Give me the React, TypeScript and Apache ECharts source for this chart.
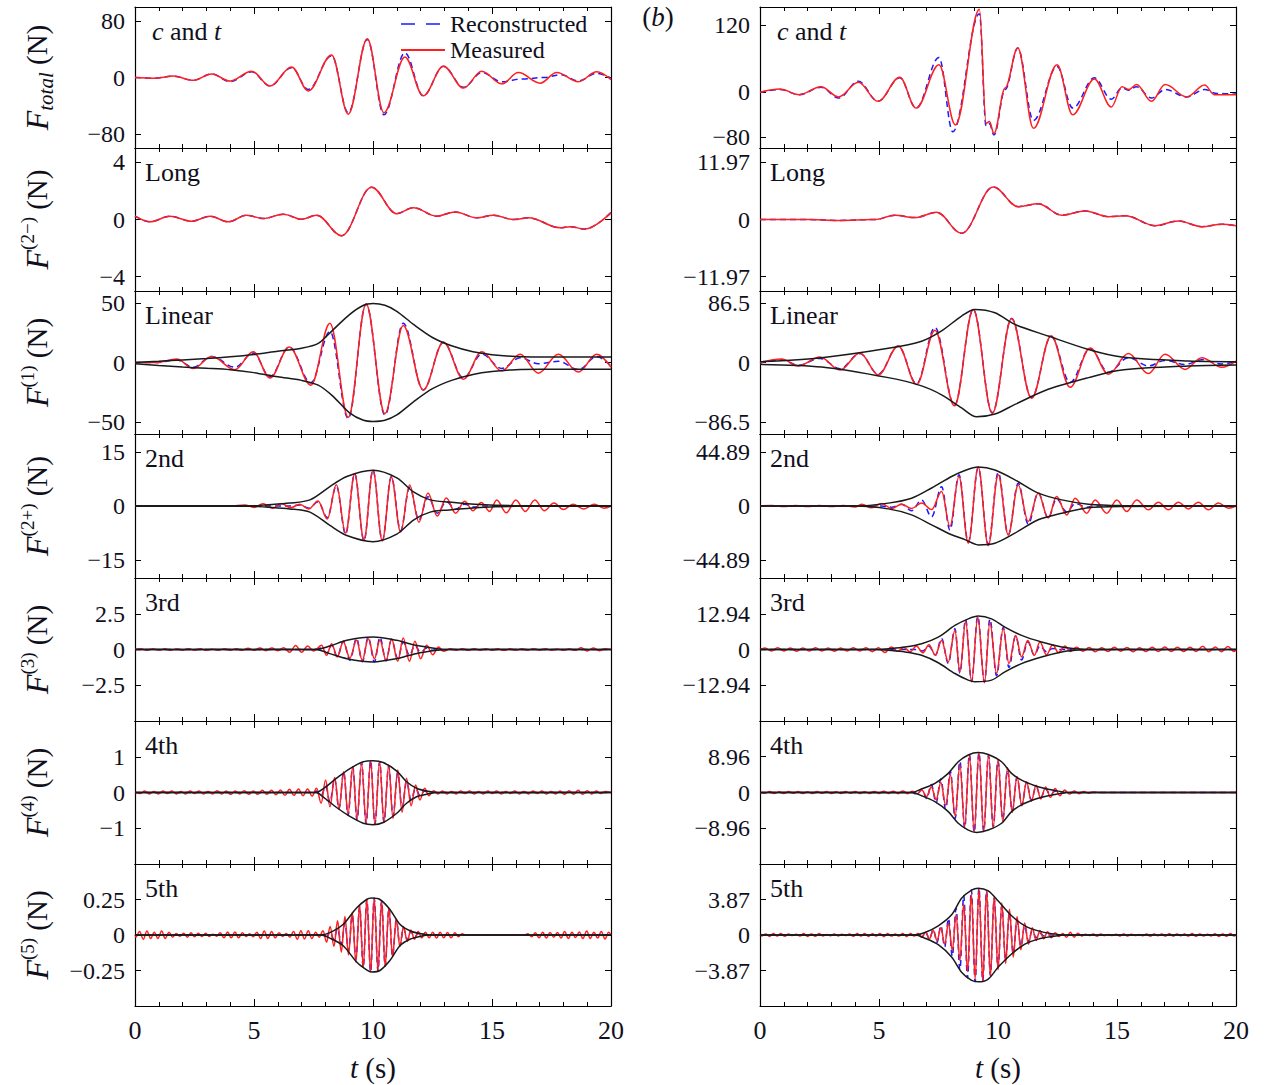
import React, { useEffect, useRef } from 'react';
import * as echarts from 'echarts';

type P = [number, number];

// ---------------- time axis ----------------
const timeTicks = [0, 5, 10, 15, 20];

// ---------------- (a) left column ----------------
const aTotMeas: P[] = [[0,0],[0.8,-1],[1.61,2],[2.45,-4],[3.22,5],[3.99,-5],[4.9,9],[5.67,-12],[6.58,15],[7.28,-19],[8.26,32],[8.96,-52],[9.76,55],[10.46,-50],[11.34,29],[12.11,-26],[12.96,16],[13.8,-15],[14.57,9],[15.41,-9],[16.11,7],[17.02,-8],[17.72,7],[18.63,-6],[19.4,8],[20,-3]];
const aTotRec: P[] = [[0,0],[0.8,-1],[1.61,2],[2.45,-4],[3.22,5],[3.99,-6],[4.9,8],[5.67,-12],[6.58,14],[7.28,-17],[8.26,31],[8.96,-50],[9.76,54],[10.46,-53],[11.34,35],[12.11,-26],[12.96,16],[13.8,-14],[14.57,7],[15.41,-6],[16.3,-2],[17.2,0],[17.9,4],[18.63,-5],[19.4,6],[20,-1]];

const aLongMeas: P[] = [[0,0.23],[0.63,-0.16],[1.47,0.23],[2.38,-0.12],[3.15,0.23],[3.92,-0.16],[4.69,0.3],[5.39,0.07],[6.23,0.37],[7.0,0.02],[7.63,0.3],[8.68,-1.13],[9.94,2.26],[10.99,0.41],[11.69,0.83],[12.68,0.23],[13.45,0.53],[14.36,0.12],[15.06,0.3],[15.9,0],[16.53,0.12],[17.86,-0.58],[18.28,-0.5],[18.91,-0.67],[20,0.48]];

const aLinMeas: P[] = [[0,0],[0.9,0],[1.75,3],[2.45,-5],[3.22,5],[4.2,-6],[4.97,9],[5.67,-13],[6.48,13],[7.39,-19],[8.19,33],[8.96,-46],[9.71,49],[10.5,-43],[11.27,31],[12.11,-23],[12.96,17],[13.8,-14],[14.57,9],[15.41,-7],[16.18,7],[16.95,-9],[17.79,7],[18.63,-8],[19.4,7],[20,-4]];
const aLinRec: P[] = [[0,0],[0.9,0],[1.75,2],[2.45,-4],[3.22,5],[4.2,-4],[4.97,8],[5.67,-12],[6.48,13],[7.39,-17],[8.19,26],[8.96,-47],[9.71,49],[10.5,-44],[11.27,33],[12.11,-23],[12.96,17],[13.8,-13],[14.57,7],[15.41,-5],[16.18,4],[16.95,-1],[17.79,1],[18.63,-6],[19.4,5],[20,-3]];
const aLinUp: P[] = [[0,0],[1,1],[2,2.2],[3,3.3],[4,4.8],[5,6.8],[6,9.5],[7,12],[7.7,16],[8.3,27],[9,40],[9.6,48],[10,49.5],[10.5,48],[11,43],[11.7,32],[12.5,21],[13.3,14],[14.2,9],[15,6.5],[16,5],[17,4.6],[20,4.6]];
const aLinLo: P[] = [[0,-1],[1,-2.5],[2,-3.8],[3,-4.8],[4,-6],[5,-8.5],[6,-12],[7,-15],[7.7,-19],[8.3,-28],[9,-42],[9.6,-48.5],[10,-49.5],[10.5,-48.5],[11,-44],[11.7,-33],[12.5,-22],[13.3,-15],[14.2,-10],[15,-7.5],[16,-6],[17,-5.7],[20,-5.7]];

const a2Meas: P[] = [[0,0],[1,0.05],[2,-0.05],[3,0.05],[4,-0.05],[4.61,0.3],[5.0,-0.4],[5.38,0.6],[5.77,-0.6],[6.15,0.7],[6.54,-0.5],[6.92,0.5],[7.31,-0.8],[7.69,1.4],[8.08,-3.6],[8.46,5.9],[8.85,-7.5],[9.23,8.9],[9.62,-9.5],[10.0,9.9],[10.39,-9.7],[10.77,8],[11.16,-7.2],[11.54,5.8],[11.93,-4.5],[12.31,3.6],[12.7,-2.8],[13.08,2.2],[13.47,-2.0],[13.85,1.3],[14.2,-1.3],[14.55,1.0],[14.9,-1.5],[15.2,1.7],[15.6,-1.9],[16.0,1.7],[16.4,-1.5],[16.8,1.7],[17.2,-1.3],[17.6,0.8],[18.0,-1.0],[18.4,0.5],[18.85,-0.8],[19.3,0.5],[19.7,-0.6],[20,0]];
const a2Rec: P[] = [[0,0],[6.5,0],[6.92,0.3],[7.31,-0.6],[7.69,1.2],[8.08,-3.2],[8.46,5.6],[8.85,-7.8],[9.23,9.0],[9.62,-9.6],[10.0,10.0],[10.39,-9.6],[10.77,8.2],[11.16,-6.8],[11.54,5.2],[11.93,-3.8],[12.31,2.6],[12.7,-2.0],[13.08,1.2],[13.47,-0.9],[13.85,0.5],[14.24,-0.3],[14.6,0],[20,0]];
const a2Up: P[] = [[0,0.05],[5,0.1],[5.5,0.3],[6.5,0.8],[7.35,1.7],[8.19,5.4],[8.9,8.2],[10,9.9],[11,7.8],[11.7,3.9],[12.4,1.7],[13.2,1.1],[14.5,0.4],[16,0.1],[20,0.05]];
const a2Lo: P[] = [[0,-0.05],[5,-0.1],[5.5,-0.3],[6.5,-0.8],[7.35,-1.7],[8.19,-5.4],[8.9,-8.2],[10,-9.9],[11,-7.8],[11.7,-3.9],[12.4,-1.7],[13.2,-1.1],[14.5,-0.4],[16,-0.1],[20,-0.05]];

const a3Meas: P[] = [[0,0],[0.25,0.05],[0.5,-0.05],[0.75,0.06],[1.0,-0.04],[1.25,0.05],[1.5,-0.06],[1.75,0.04],[2.0,-0.05],[2.25,0.06],[2.5,-0.05],[2.75,0.05],[3.0,-0.06],[3.25,0.04],[3.5,-0.05],[3.75,0.06],[4.0,-0.05],[4.25,0.05],[4.5,-0.06],[4.75,0.08],[5.0,-0.06],[5.25,0.1],[5.5,-0.08],[5.75,0.1],[6.0,-0.08],[6.25,0.12],[6.5,-0.2],[6.75,0.28],[7.0,-0.2],[7.25,0.24],[7.5,-0.1],[7.84,0.29],[8.05,-0.41],[8.26,0.41],[8.5,-0.52],[8.75,0.52],[9.03,-0.59],[9.31,0.64],[9.55,-0.76],[9.8,0.76],[10.06,-0.64],[10.29,0.64],[10.55,-0.76],[10.78,0.76],[11.04,-0.83],[11.27,0.8],[11.53,-0.83],[11.76,0.57],[12.0,-0.64],[12.25,0.29],[12.51,-0.36],[12.75,0.17],[12.96,-0.13],[13.25,0.06],[13.5,-0.05],[13.75,0.05],[14.0,-0.06],[14.25,0.05],[14.5,-0.05],[14.75,0.06],[15.0,-0.05],[15.25,0.05],[15.5,-0.06],[15.75,0.05],[16.0,-0.04],[16.25,0.05],[16.5,-0.05],[16.75,0.06],[17.0,-0.05],[17.25,0.05],[17.5,-0.05],[17.75,0.04],[18.0,-0.05],[18.25,0.05],[18.5,-0.06],[18.75,0.12],[19.0,-0.1],[19.25,0.1],[19.5,-0.08],[19.75,0.05],[20,0]];
const a3Rec: P[] = [[0,0],[7.5,0],[7.84,0.1],[8.05,-0.25],[8.26,0.3],[8.5,-0.5],[8.75,0.6],[9.03,-0.75],[9.31,0.78],[9.55,-0.85],[9.8,0.85],[10.06,-0.87],[10.29,0.85],[10.55,-0.8],[10.78,0.7],[11.04,-0.62],[11.27,0.5],[11.53,-0.4],[11.76,0.28],[12.0,-0.2],[12.25,0.1],[12.5,-0.05],[12.8,0],[20,0]];
const a3Up: P[] = [[0,0],[7.6,0],[8.19,0.24],[8.9,0.64],[10,0.87],[11.0,0.64],[11.8,0.29],[12.7,0.06],[13.2,0],[20,0]];
const a3Lo: P[] = [[0,0],[7.6,0],[8.19,-0.29],[8.9,-0.64],[10,-0.87],[11.0,-0.64],[11.8,-0.29],[12.7,-0.06],[13.2,0],[20,0]];

const a4Meas: P[] = [[0,0],[0.22,-0.03],[0.41,0.04],[0.6,-0.04],[0.79,0.03],[0.98,-0.04],[1.17,0.04],[1.36,-0.03],[1.55,0.04],[1.74,-0.04],[1.93,0.03],[2.12,-0.04],[2.31,0.04],[2.5,-0.03],[2.69,0.04],[2.88,-0.04],[3.07,0.03],[3.26,-0.04],[3.45,0.05],[3.64,-0.04],[3.83,0.04],[4.02,-0.05],[4.21,0.04],[4.4,-0.04],[4.59,0.05],[4.78,-0.05],[4.97,0.04],[5.16,-0.05],[5.35,0.06],[5.54,-0.05],[5.73,0.06],[5.92,-0.06],[6.11,0.07],[6.3,-0.08],[6.49,0.09],[6.68,-0.08],[6.87,0.1],[7.06,-0.09],[7.25,0.1],[7.44,-0.1],[7.63,0.12],[7.82,-0.3],[8.01,0.35],[8.19,-0.4],[8.39,0.42],[8.57,-0.45],[8.77,0.58],[8.95,-0.6],[9.15,0.72],[9.33,-0.74],[9.52,0.82],[9.71,-0.85],[9.9,0.88],[10.08,-0.89],[10.28,0.86],[10.46,-0.83],[10.66,0.77],[10.84,-0.72],[11.04,0.63],[11.22,-0.55],[11.41,0.4],[11.6,-0.37],[11.79,0.21],[11.97,-0.21],[12.17,0.12],[12.35,-0.09],[12.55,0.05],[12.73,-0.04],[12.92,0.04],[13.11,-0.04],[13.3,0.03],[13.49,-0.04],[13.68,0.04],[13.87,-0.03],[14.06,0.04],[14.25,-0.04],[14.44,0.03],[14.63,-0.04],[14.82,0.04],[15.01,-0.03],[15.2,0.04],[15.39,-0.04],[15.58,0.03],[15.77,-0.03],[15.96,0.04],[16.15,-0.04],[16.34,0.03],[16.53,-0.04],[16.72,0.04],[16.91,-0.03],[17.1,0.04],[17.29,-0.04],[17.48,0.03],[17.67,-0.04],[17.86,0.04],[18.05,-0.05],[18.24,0.05],[18.43,-0.05],[18.62,0.06],[18.81,-0.05],[19.0,0.05],[19.19,-0.04],[19.38,0.04],[19.57,-0.03],[19.76,0.03],[20,0]];
const a4Rec: P[] = [[0,0],[7.44,0],[7.63,0.04],[7.82,-0.1],[8.01,0.18],[8.19,-0.26],[8.39,0.38],[8.57,-0.46],[8.77,0.58],[8.95,-0.64],[9.15,0.72],[9.33,-0.78],[9.52,0.84],[9.71,-0.87],[9.9,0.89],[10.08,-0.89],[10.28,0.86],[10.46,-0.83],[10.66,0.74],[10.84,-0.66],[11.04,0.55],[11.22,-0.42],[11.41,0.3],[11.6,-0.2],[11.79,0.12],[11.97,-0.08],[12.17,0.04],[12.35,-0.02],[12.55,0],[20,0]];
const a4Up: P[] = [[0,0],[7.6,0],[7.9,0.1],[8.47,0.4],[9.03,0.67],[9.59,0.86],[10.0,0.89],[10.43,0.84],[11.0,0.6],[11.41,0.3],[11.83,0.12],[12.25,0.04],[12.68,0],[20,0]];
const a4Lo: P[] = [[0,0],[7.6,0],[7.9,-0.12],[8.47,-0.42],[9.03,-0.67],[9.59,-0.86],[10.0,-0.9],[10.43,-0.84],[11.0,-0.58],[11.41,-0.3],[11.83,-0.12],[12.25,-0.05],[12.68,0],[20,0]];

const a5Meas: P[] = [[0,0],[0.04,-0.015],[0.19,0.025],[0.35,-0.03],[0.5,0.028],[0.66,-0.025],[0.81,0.02],[0.96,-0.025],[1.12,0.028],[1.27,-0.025],[1.43,0.02],[1.58,-0.015],[1.73,0.01],[1.89,-0.008],[2.04,0.012],[2.2,-0.015],[2.35,0.015],[2.5,-0.012],[2.66,0.012],[2.81,-0.01],[2.97,0.012],[3.12,-0.01],[3.27,0.006],[3.43,-0.008],[3.58,0.015],[3.74,-0.02],[3.89,0.022],[4.04,-0.02],[4.2,0.022],[4.35,-0.02],[4.51,0.015],[4.66,-0.01],[4.81,0.008],[4.97,-0.012],[5.12,0.02],[5.28,-0.025],[5.43,0.028],[5.58,-0.025],[5.74,0.025],[5.89,-0.02],[6.05,0.015],[6.2,-0.01],[6.35,0.01],[6.51,-0.015],[6.66,0.025],[6.82,-0.03],[6.97,0.03],[7.12,-0.028],[7.28,0.03],[7.43,-0.025],[7.59,0.02],[7.74,-0.015],[7.9,0.03],[8.05,-0.05],[8.2,0.06],[8.36,-0.08],[8.51,0.1],[8.67,-0.12],[8.82,0.13],[8.97,-0.14],[9.13,0.16],[9.28,-0.19],[9.44,0.21],[9.59,-0.23],[9.74,0.25],[9.9,-0.26],[10.05,0.26],[10.21,-0.25],[10.36,0.24],[10.51,-0.22],[10.67,0.19],[10.82,-0.15],[10.98,0.11],[11.13,-0.08],[11.28,0.06],[11.44,-0.045],[11.59,0.035],[11.74,-0.03],[11.9,0.025],[12.05,-0.02],[12.2,0.02],[12.36,-0.02],[12.51,0.02],[12.67,-0.022],[12.82,0.02],[12.97,-0.02],[13.13,0.018],[13.28,-0.02],[13.44,0.015],[13.59,-0.012],[13.74,0.008],[13.9,0],[16.36,0],[16.51,0.008],[16.67,-0.012],[16.82,0.015],[16.98,-0.02],[17.13,0.02],[17.28,-0.022],[17.44,0.018],[17.59,-0.015],[17.75,0.018],[17.9,-0.022],[18.05,0.025],[18.21,-0.025],[18.36,0.02],[18.51,-0.018],[18.67,0.022],[18.82,-0.025],[18.98,0.028],[19.13,-0.025],[19.28,0.02],[19.44,-0.022],[19.59,0.025],[19.75,-0.028],[19.9,0.02],[20,0]];
const a5Rec: P[] = [[0,0],[7.74,0],[7.9,0.005],[8.05,-0.01],[8.2,0.017],[8.36,-0.03],[8.51,0.045],[8.67,-0.065],[8.82,0.085],[8.97,-0.11],[9.13,0.14],[9.28,-0.17],[9.44,0.2],[9.59,-0.23],[9.74,0.25],[9.9,-0.26],[10.05,0.26],[10.21,-0.255],[10.36,0.24],[10.51,-0.22],[10.67,0.19],[10.82,-0.15],[10.98,0.11],[11.13,-0.076],[11.28,0.05],[11.44,-0.035],[11.59,0.025],[11.74,-0.015],[11.9,0.01],[12.05,0],[20,0]];
const a5Up: P[] = [[0,0],[7.8,0],[8.19,0.017],[8.75,0.076],[9.31,0.19],[9.73,0.25],[9.94,0.26],[10.29,0.25],[10.71,0.18],[11.13,0.076],[11.55,0.03],[11.97,0.01],[12.4,0],[20,0]];
const a5Lo: P[] = [[0,0],[7.8,0],[8.19,-0.022],[8.75,-0.076],[9.31,-0.19],[9.73,-0.245],[9.94,-0.26],[10.29,-0.25],[10.71,-0.18],[11.13,-0.076],[11.55,-0.03],[11.97,-0.01],[12.4,0],[20,0]];

// ---------------- (b) right column ----------------
const bTotMeas: P[] = [[0,0],[0.83,6],[1.65,-4],[2.56,10],[3.31,-8],[4.13,18],[4.96,-16],[5.87,27],[6.56,-28],[7.52,49],[8.21,-58],[9.22,148],[9.5,-55],[9.64,-52],[9.83,-73],[10.3,8],[10.83,79],[11.49,-64],[12.48,49],[13.14,-40],[14.05,24],[14.76,-26],[15.21,10],[15.5,5],[15.82,14],[16.45,-16],[17.02,14],[17.93,-8],[18.68,13],[19.09,-4],[20,-4]];
const bTotRec: P[] = [[0,0],[0.83,5],[1.65,-4],[2.56,9],[3.31,-10],[4.13,20],[4.96,-16],[5.87,26],[6.56,-28],[7.52,62],[8.1,-70],[9.22,140],[9.5,-60],[9.64,-56],[9.83,-76],[10.3,5],[10.83,79],[11.49,-50],[12.48,46],[13.14,-28],[14.05,26],[14.76,-12],[15.21,8],[15.5,4],[15.82,10],[16.45,-10],[17.02,5],[17.93,-8],[18.68,5],[19.2,-2],[20,-3]];

const bLongMeas: P[] = [[0,0],[2.0,0],[3.29,-0.2],[4.83,0],[5.67,0.9],[6.51,0.4],[7.42,1.5],[8.47,-2.9],[9.8,6.8],[10.85,2.7],[11.69,3.3],[12.68,0.9],[13.66,1.8],[14.64,0.6],[15.34,0.8],[16.6,-1.3],[17.58,-0.3],[18.56,-1.5],[19.4,-1.0],[20,-1.3]];

const bLinMeas: P[] = [[0,-0.3],[0.91,5],[1.61,-5],[2.52,8],[3.36,-11],[4.2,14],[4.97,-18],[5.81,24],[6.58,-32],[7.35,47],[8.17,-63],[8.96,77],[9.76,-74],[10.57,64],[11.41,-52],[12.23,39],[13.03,-36],[13.87,21],[14.64,-17],[15.48,13],[16.32,-16],[17.02,12],[17.86,-10],[18.56,7],[19.4,-7],[20,2]];
const bLinRec: P[] = [[0,-0.3],[0.91,4],[1.61,-4],[2.52,6],[3.36,-9],[4.2,13],[4.97,-17],[5.81,24],[6.58,-31],[7.35,51],[8.17,-62],[8.96,77],[9.76,-73],[10.57,64],[11.41,-51],[12.23,38],[13.03,-29],[13.87,20],[14.64,-14],[15.48,7],[16.32,-5],[17.02,3],[17.86,-3],[18.56,4],[19.4,-2],[20,1]];
const bLinUp: P[] = [[0,1.2],[2.59,7],[5.39,20.6],[6.79,31],[7.63,46],[8.47,67.6],[9.03,77.2],[9.87,72.4],[10.71,55.5],[12.11,38.5],[13.8,19],[15.2,8],[18,2.2],[20,1.2]];
const bLinLo: P[] = [[0,-2.7],[2.59,-6.5],[5.39,-22],[6.79,-34],[7.63,-47],[8.47,-66],[9.1,-79],[9.87,-75],[10.71,-61],[12.11,-39],[13.8,-22],[15.2,-11],[18,-5],[20,-3.6]];

const b2Meas: P[] = [[0,0],[0.5,0.5],[1.0,-0.5],[1.5,0.5],[2.0,-0.5],[2.5,0.5],[3.0,-0.5],[3.5,0.5],[4.0,-0.8],[4.27,1.5],[4.69,-1.5],[5.11,2],[5.53,-2],[5.95,1.5],[6.37,-2],[6.79,2.5],[7.21,-3],[7.63,12],[7.98,-17],[8.36,24.6],[8.75,-31],[9.17,32.4],[9.59,-33],[10.01,26],[10.43,-24],[10.85,17.6],[11.27,-12.9],[11.69,10.7],[12.11,-10.1],[12.46,7.9],[12.89,-7.4],[13.24,6.5],[13.73,-6],[14.08,5.1],[14.57,-6],[14.99,5.1],[15.41,-4.6],[15.83,5.1],[16.32,-3.2],[16.74,3.2],[17.16,-3.2],[17.58,3.2],[18.0,-2.4],[18.42,3.2],[18.84,-3.2],[19.26,2.4],[19.68,-1.8],[20,0]];
const b2Rec: P[] = [[0,0],[5.1,0],[5.53,-1],[5.95,1.5],[6.37,-4],[6.79,5],[7.21,-9],[7.63,16],[7.98,-20],[8.36,26],[8.75,-30],[9.17,32],[9.59,-32],[10.01,28],[10.43,-24],[10.85,19],[11.27,-15],[11.69,11],[12.11,-10],[12.46,6],[12.89,-5],[13.24,2],[13.73,-1],[14.1,0],[20,0]];
const b2Up: P[] = [[0,0],[4.0,0],[5.39,2.4],[6.37,6.5],[7.21,15],[8.05,24.6],[8.61,29.6],[9.17,32.4],[9.87,30],[10.71,21.8],[11.69,10.7],[12.68,5.1],[13.8,1.5],[15.2,0.4],[20,0]];
const b2Lo: P[] = [[0,0],[4.0,0],[5.39,-2.4],[6.37,-7.4],[7.21,-15.7],[8.05,-24],[8.61,-28],[9.17,-32.4],[9.87,-31],[10.71,-22.6],[11.69,-11.5],[12.68,-6],[13.8,-1.5],[15.2,-0.4],[20,0]];

const b3Meas: P[] = [[0,0],[0.21,0.5],[0.48,-0.5],[0.74,0.6],[1.01,-0.5],[1.27,0.5],[1.54,-0.6],[1.8,0.5],[2.07,-0.5],[2.33,0.6],[2.6,-0.5],[2.86,0.5],[3.13,-0.6],[3.39,0.5],[3.66,-0.5],[3.92,0.6],[4.19,-0.5],[4.45,0.6],[4.72,-0.8],[4.98,0.6],[5.25,-1.1],[5.51,0.9],[5.78,-0.6],[6.04,0.7],[6.31,-0.8],[6.57,1.3],[6.84,-1.2],[7.1,1.7],[7.37,-2.0],[7.63,3.3],[7.91,-4.5],[8.19,6.9],[8.4,-8.1],[8.64,10.2],[8.89,-11.7],[9.15,11.7],[9.43,-12],[9.66,9.9],[9.94,-8.7],[10.22,7.5],[10.46,-5.1],[10.74,5.1],[10.99,-2.7],[11.25,3.3],[11.53,-2.1],[11.76,2.7],[12.04,-1.9],[12.3,1.7],[12.54,-1.1],[12.82,1.3],[13.03,-0.7],[13.3,0.8],[13.56,-0.6],[13.83,0.7],[14.09,-0.8],[14.36,0.6],[14.62,-0.7],[14.89,0.8],[15.15,-0.6],[15.42,0.7],[15.68,-0.8],[15.95,0.6],[16.21,-0.7],[16.48,0.8],[16.74,-0.7],[17.01,0.9],[17.27,-0.7],[17.54,0.8],[17.8,-0.7],[18.07,0.8],[18.33,-0.7],[18.6,1.2],[18.86,-0.8],[19.13,0.9],[19.39,-0.8],[19.66,1.1],[19.92,-0.7],[20,0]];
const b3Rec: P[] = [[0,0],[6.5,0],[6.84,-0.5],[7.1,1.2],[7.37,-2],[7.63,4],[7.91,-5],[8.19,7.5],[8.4,-8.5],[8.64,10.8],[8.89,-11.5],[9.15,12],[9.43,-11.8],[9.66,11],[9.94,-9.5],[10.22,8],[10.46,-6.5],[10.74,5],[10.99,-3.8],[11.25,2.8],[11.53,-2],[11.76,1.3],[12.04,-0.8],[12.3,0.4],[12.6,0],[20,0]];
const b3Up: P[] = [[0,0],[4.9,0],[5.39,0.3],[6.09,0.9],[6.79,2.1],[7.49,4.5],[8.19,8.7],[8.75,11.1],[9.17,12.1],[9.73,11.1],[10.29,8.1],[10.99,5.1],[11.83,2.7],[12.68,0.9],[13.24,0.3],[13.8,0],[20,0]];
const b3Lo: P[] = [[0,0],[4.9,0],[5.39,-0.3],[6.09,-0.9],[6.79,-2.1],[7.49,-4.8],[8.19,-8.7],[8.75,-11.1],[9.03,-11.7],[9.73,-11.1],[10.29,-8.1],[10.99,-5.1],[11.83,-2.7],[12.68,-0.9],[13.24,-0.3],[13.8,0],[20,0]];

const b4Meas: P[] = [[0,0],[0.2,-0.2],[0.4,0.25],[0.6,-0.25],[0.8,0.2],[1.0,-0.25],[1.2,0.25],[1.4,-0.2],[1.6,0.25],[1.8,-0.25],[2.0,0.2],[2.2,-0.25],[2.4,0.25],[2.6,-0.2],[2.8,0.25],[3.0,-0.25],[3.2,0.2],[3.4,-0.25],[3.6,0.25],[3.8,-0.2],[4.0,0.25],[4.2,-0.25],[4.4,0.2],[4.6,-0.25],[4.8,0.25],[5.0,-0.25],[5.2,0.3],[5.4,-0.25],[5.6,0.3],[5.8,-0.3],[6.0,0.35],[6.2,-0.3],[6.4,0.3],[6.6,-0.3],[6.8,0.6],[7.0,-1.0],[7.2,1.4],[7.4,-1.8],[7.6,2.5],[7.8,-3.2],[8.0,4.5],[8.2,-5.8],[8.4,7],[8.6,-8.5],[8.8,9.2],[9.0,-9.8],[9.2,10],[9.4,-9.8],[9.6,9.4],[9.8,-8.8],[10.0,8.2],[10.2,-7.2],[10.4,6.2],[10.6,-5],[10.8,4],[11.0,-3.3],[11.2,2.7],[11.4,-2.2],[11.6,1.8],[11.8,-1.6],[12.0,1.4],[12.2,-1.2],[12.4,1.0],[12.6,-0.8],[12.8,0.6],[13.0,-0.4],[13.2,0.35],[13.4,-0.3],[13.6,0.25],[13.8,-0.2],[14.0,0.1],[14.3,0],[20,0]];
const b4Rec: P[] = [[0,0],[6.4,0],[6.6,-0.5],[6.8,0.9],[7.0,-1.5],[7.2,2.0],[7.4,-2.6],[7.6,3.4],[7.8,-4.2],[8.0,5.3],[8.2,-6.5],[8.4,7.8],[8.6,-8.9],[8.8,9.5],[9.0,-9.9],[9.2,10],[9.4,-9.7],[9.6,9.3],[9.8,-8.6],[10.0,7.9],[10.2,-6.8],[10.4,5.6],[10.6,-4.6],[10.8,3.8],[11.0,-3.1],[11.2,2.5],[11.4,-1.9],[11.6,1.5],[11.8,-1.2],[12.0,0.9],[12.2,-0.6],[12.4,0.4],[12.6,-0.2],[12.9,0],[20,0]];
const b4Up: P[] = [[0,0],[6.37,0],[6.79,0.9],[7.35,2.3],[7.91,4.8],[8.33,7.7],[8.75,9.4],[9.17,10],[9.59,9.5],[10.15,7.7],[10.57,4.8],[10.99,3.1],[11.55,1.7],[11.97,1],[12.39,0.5],[12.96,0],[20,0]];
const b4Lo: P[] = [[0,0],[6.37,0],[6.79,-0.8],[7.35,-2.3],[7.91,-4.8],[8.33,-7.7],[8.75,-9.4],[9.1,-10],[9.59,-9.4],[10.15,-7.7],[10.57,-4.8],[10.99,-3.1],[11.55,-1.7],[11.97,-1],[12.39,-0.5],[12.96,0],[20,0]];

const b5Meas: P[] = [[0,0],[0.08,-0.1],[0.24,0.12],[0.4,-0.15],[0.56,0.15],[0.72,-0.12],[0.88,0.15],[1.04,-0.13],[1.2,0.1],[1.36,-0.06],[1.52,0.08],[1.68,-0.12],[1.84,0.15],[2.0,-0.15],[2.16,0.12],[2.32,-0.14],[2.48,0.15],[2.64,-0.1],[2.8,0.06],[2.96,-0.08],[3.12,0.1],[3.28,-0.1],[3.44,0.08],[3.6,-0.06],[3.76,0.1],[3.92,-0.14],[4.08,0.15],[4.24,-0.12],[4.4,0.15],[4.56,-0.16],[4.72,0.14],[4.88,-0.12],[5.04,0.15],[5.2,-0.18],[5.36,0.16],[5.52,-0.12],[5.68,0.1],[5.84,-0.12],[6.0,0.15],[6.16,-0.18],[6.32,0.15],[6.48,-0.12],[6.64,0.15],[6.8,-0.25],[6.96,0.3],[7.12,-0.4],[7.28,0.5],[7.44,-0.6],[7.6,0.8],[7.76,-1.0],[7.92,1.3],[8.08,-1.7],[8.24,2.2],[8.4,-2.8],[8.56,3.4],[8.72,-4.0],[8.88,4.5],[9.04,-4.8],[9.2,5.0],[9.36,-5.0],[9.52,4.8],[9.68,-4.5],[9.84,4.2],[10.0,-3.8],[10.16,3.5],[10.32,-3.1],[10.48,2.8],[10.64,-2.4],[10.8,2.0],[10.96,-1.6],[11.12,1.3],[11.28,-1.0],[11.44,0.8],[11.6,-0.6],[11.76,0.5],[11.92,-0.4],[12.08,0.35],[12.24,-0.3],[12.4,0.25],[12.56,-0.15],[12.72,0.15],[12.88,-0.25],[13.04,0.3],[13.2,-0.25],[13.36,0.2],[13.52,-0.12],[13.68,0.08],[13.84,-0.06],[14.0,0.1],[14.16,-0.12],[14.32,0.1],[14.48,-0.06],[14.64,0.05],[14.8,-0.06],[14.96,0.08],[15.12,-0.1],[15.28,0.12],[15.44,-0.1],[15.6,0.08],[15.76,-0.06],[15.92,0.06],[16.08,-0.08],[16.24,0.1],[16.4,-0.12],[16.56,0.1],[16.72,-0.08],[16.88,0.1],[17.04,-0.12],[17.2,0.14],[17.36,-0.12],[17.52,0.1],[17.68,-0.08],[17.84,0.1],[18.0,-0.12],[18.16,0.15],[18.32,-0.14],[18.48,0.12],[18.64,-0.1],[18.8,0.08],[18.96,-0.1],[19.12,0.14],[19.28,-0.15],[19.44,0.12],[19.6,-0.14],[19.76,0.15],[19.92,-0.12],[20,0]];
const b5Rec: P[] = [[0,0],[6.48,0],[6.64,0.1],[6.8,-0.2],[6.96,0.3],[7.12,-0.45],[7.28,0.6],[7.44,-0.8],[7.6,1.0],[7.76,-1.3],[7.92,1.8],[8.08,-2.3],[8.24,2.9],[8.4,-3.8],[8.56,4.3],[8.72,-4.7],[8.88,4.9],[9.04,-5.1],[9.2,5.1],[9.36,-5.0],[9.52,4.8],[9.68,-4.4],[9.84,4.0],[10.0,-3.6],[10.16,3.2],[10.32,-2.8],[10.48,2.4],[10.64,-2.0],[10.8,1.6],[10.96,-1.2],[11.12,1.0],[11.28,-0.7],[11.44,0.5],[11.6,-0.3],[11.76,0.2],[11.92,-0.1],[12.1,0],[20,0]];
const b5Up: P[] = [[0,0],[6.51,0],[6.93,0.27],[7.49,1],[8.05,2.2],[8.47,4],[8.89,4.9],[9.17,5.1],[9.59,4.8],[10.01,3.7],[10.57,2.1],[11.13,1],[11.69,0.45],[12.25,0.15],[12.82,0],[20,0]];
const b5Lo: P[] = [[0,0],[6.51,0],[6.93,-0.35],[7.49,-1.06],[8.05,-2.4],[8.47,-4.05],[8.89,-4.95],[9.17,-5.1],[9.59,-4.8],[10.01,-3.5],[10.57,-2.07],[11.13,-1],[11.69,-0.45],[12.25,-0.18],[12.82,0],[20,0]];

// ---------------- axes: ranges and tick labels ----------------
const aRanges: P[] = [[-100, 100], [-5, 5], [-60, 60], [-20, 20], [-5, 5], [-2, 2], [-0.5, 0.5]];
const aTicks: number[][] = [[-80, 0, 80], [-4, 0, 4], [-50, 0, 50], [-15, 0, 15], [-2.5, 0, 2.5], [-1, 0, 1], [-0.25, 0, 0.25]];
const bRanges: P[] = [[-99, 152], [-15, 15], [-104, 104], [-60, 60], [-25.9, 25.9], [-17.9, 17.9], [-7.74, 7.74]];
const bTicks: number[][] = [[-80, 0, 120], [-11.97, 0, 11.97], [-86.5, 0, 86.5], [-44.89, 0, 44.89], [-12.94, 0, 12.94], [-8.96, 0, 8.96], [-3.87, 0, 3.87]];

const panelLabels = ['c and t', 'Long', 'Linear', '2nd', '3rd', '4th', '5th'];
const yTitleSup = ['total', '(2\u2212)', '(1)', '(2+)', '(3)', '(4)', '(5)'];
const legendNames = ['Reconstructed', 'Measured'];

// ---------------- layout ----------------
const ROW_EDGES = [7, 148, 291, 434, 578, 721, 864, 1006];
const COL_LEFT = [135, 760];
const PLOT_W = 476;

const FONT = "'Liberation Serif','Times New Roman','DejaVu Serif',serif";
const RED = '#ff1f1f';
const BLUE = '#1a1aff';
const BLACK = '#1a1a1a';
const INK = '#10101c';

interface Panel { meas: P[]; rec: P[]; up?: P[]; lo?: P[] }

const aPanels: Panel[] = [
  { meas: aTotMeas, rec: aTotRec },
  { meas: aLongMeas, rec: aLongMeas },
  { meas: aLinMeas, rec: aLinRec, up: aLinUp, lo: aLinLo },
  { meas: a2Meas, rec: a2Rec, up: a2Up, lo: a2Lo },
  { meas: a3Meas, rec: a3Rec, up: a3Up, lo: a3Lo },
  { meas: a4Meas, rec: a4Rec, up: a4Up, lo: a4Lo },
  { meas: a5Meas, rec: a5Rec, up: a5Up, lo: a5Lo },
];
const bPanels: Panel[] = [
  { meas: bTotMeas, rec: bTotRec },
  { meas: bLongMeas, rec: bLongMeas },
  { meas: bLinMeas, rec: bLinRec, up: bLinUp, lo: bLinLo },
  { meas: b2Meas, rec: b2Rec, up: b2Up, lo: b2Lo },
  { meas: b3Meas, rec: b3Rec, up: b3Up, lo: b3Lo },
  { meas: b4Meas, rec: b4Rec, up: b4Up, lo: b4Lo },
  { meas: b5Meas, rec: b5Rec, up: b5Up, lo: b5Lo },
];

const fmt = (v: number) => (v < 0 ? '\u2212' + String(Math.abs(v)) : String(v));

function buildOption(): any {
  const grid: any[] = [];
  const xAxis: any[] = [];
  const yAxis: any[] = [];
  const series: any[] = [];
  const graphic: any[] = [];
  const columns = [
    { panels: aPanels, ranges: aRanges, ticks: aTicks },
    { panels: bPanels, ranges: bRanges, ticks: bTicks },
  ];
  const axisLine = { show: true, onZero: false, lineStyle: { color: '#000', width: 1.2 } };

  columns.forEach((col, c) => {
    col.panels.forEach((p, r) => {
      const g = grid.length;
      const top = ROW_EDGES[r];
      const bottom = ROW_EDGES[r + 1];
      grid.push({ left: COL_LEFT[c], top, width: PLOT_W, height: bottom - top, containLabel: false, outerBoundsMode: 'none' });
      const xCommon = {
        type: 'value', gridIndex: g, min: timeTicks[0], max: timeTicks[timeTicks.length - 1], interval: 5,
        axisLine,
        axisTick: { show: true, inside: true, length: 7, lineStyle: { color: '#000', width: 1 } },
        minorTick: { show: true, splitNumber: 5, length: 4, lineStyle: { color: '#000', width: 1 } },
        splitLine: { show: false }, minorSplitLine: { show: false },
      };
      xAxis.push({ ...xCommon, position: 'bottom', axisLabel: { show: r === 6, margin: 11, fontSize: 26, fontFamily: FONT, color: INK } });
      xAxis.push({ ...xCommon, position: 'top', axisLabel: { show: false } });
      const [mn, mx] = col.ranges[r];
      const tv = col.ticks[r];
      const yCommon = {
        type: 'value', gridIndex: g, min: mn, max: mx, axisLine, splitLine: { show: false },
        axisTick: { show: true, inside: true, length: 6, customValues: tv, lineStyle: { color: '#000', width: 1 } },
      };
      yAxis.push({ ...yCommon, position: 'left', axisLabel: { show: true, customValues: tv, formatter: fmt, margin: 10, fontSize: 24, fontFamily: FONT, color: INK } });
      yAxis.push({ ...yCommon, position: 'right', axisLabel: { show: false } });

      const xi = g * 2;
      const yi = g * 2;
      const base = { type: 'line', xAxisIndex: xi, yAxisIndex: yi, symbol: 'none', showSymbol: false, silent: true, clip: true, animation: false };
      series.push({ ...base, name: legendNames[0], data: p.rec, smooth: 0.36, smoothMonotone: 'x', lineStyle: { color: BLUE, width: 1.5, type: [6, 4] }, itemStyle: { color: BLUE }, z: 2 });
      series.push({ ...base, name: legendNames[1], data: p.meas, smooth: 0.36, smoothMonotone: 'x', lineStyle: { color: RED, width: 1.5 }, itemStyle: { color: RED }, z: 3 });
      if (p.up && p.lo) {
        series.push({ ...base, name: 'Envelope', data: p.up, smooth: 0.3, lineStyle: { color: BLACK, width: 1.5 }, itemStyle: { color: BLACK }, z: 4 });
        series.push({ ...base, name: 'Envelope', data: p.lo, smooth: 0.3, lineStyle: { color: BLACK, width: 1.5 }, itemStyle: { color: BLACK }, z: 4 });
      }

      // panel label
      const isCT = r === 0;
      graphic.push({
        type: 'text', x: COL_LEFT[c] + (isCT ? 17 : 10), y: top + 24, silent: true, z: 10,
        style: {
          text: isCT ? '{i|c} and {i|t}' : panelLabels[r],
          fontSize: 26, fontFamily: FONT, fill: INK, align: 'left', verticalAlign: 'middle',
          rich: { i: { fontStyle: 'italic', fontSize: 26, fontFamily: FONT, fill: INK } },
        },
      });

      // y titles (left column only)
      if (c === 0) {
        const sub = r === 0;
        graphic.push({
          type: 'text', x: 37, y: (top + bottom) / 2, rotation: Math.PI / 2, silent: true,
          style: {
            text: sub ? '{f|F}{sub|' + yTitleSup[r] + '}{n| (N)}' : '{f|F}{sup|' + yTitleSup[r] + '}{n| (N)}',
            align: 'center', verticalAlign: 'middle', fontFamily: FONT, fontSize: 29, fill: INK,
            rich: {
              f: { fontStyle: 'italic', fontSize: 32, fontFamily: FONT, fill: INK, lineHeight: 38 },
              n: { fontSize: 29, fontFamily: FONT, fill: INK, lineHeight: 38 },
              sup: { fontSize: 19, fontFamily: FONT, fill: INK, verticalAlign: 'top', lineHeight: 20 },
              sub: { fontSize: 21, fontStyle: 'italic', fontFamily: FONT, fill: INK, verticalAlign: 'bottom', lineHeight: 22 },
            },
          },
        });
      }
    });
    // x-axis title
    graphic.push({
      type: 'text', x: COL_LEFT[c] + PLOT_W / 2, y: 1068, silent: true,
      style: {
        text: '{i|t} (s)', align: 'center', verticalAlign: 'middle', fontSize: 29, fontFamily: FONT, fill: INK,
        rich: { i: { fontStyle: 'italic', fontSize: 29, fontFamily: FONT, fill: INK } },
      },
    });
  });

  graphic.push({
    type: 'text', x: 658, y: 17, silent: true,
    style: {
      text: '({i|b})', align: 'center', verticalAlign: 'middle', fontSize: 27, fontFamily: FONT, fill: INK,
      rich: { i: { fontStyle: 'italic', fontSize: 27, fontFamily: FONT, fill: INK } },
    },
  });

  return {
    animation: false,
    backgroundColor: '#fff',
    legend: {
      data: [
        { name: legendNames[0], lineStyle: { type: [14, 11], width: 1.5 } },
        { name: legendNames[1] },
      ],
      orient: 'vertical', left: 395, top: 7,
      itemWidth: 44, itemHeight: 12, itemGap: 2, selectedMode: false,
      itemStyle: { color: 'rgba(0,0,0,0)', borderColor: 'rgba(0,0,0,0)', borderWidth: 0 },
      textStyle: { fontFamily: FONT, fontSize: 24, lineHeight: 24, color: INK },
    },
    grid, xAxis, yAxis, series, graphic,
  };
}

export default function App() {
  const ref = useRef<HTMLDivElement>(null);
  useEffect(() => {
    if (!ref.current) return;
    const chart = echarts.init(ref.current, undefined, { renderer: 'svg' });
    chart.setOption(buildOption());
    return () => chart.dispose();
  }, []);
  return <div ref={ref} style={{ position: 'absolute', left: 0, top: 0, width: 1271, height: 1085, background: '#fff' }} />;
}
